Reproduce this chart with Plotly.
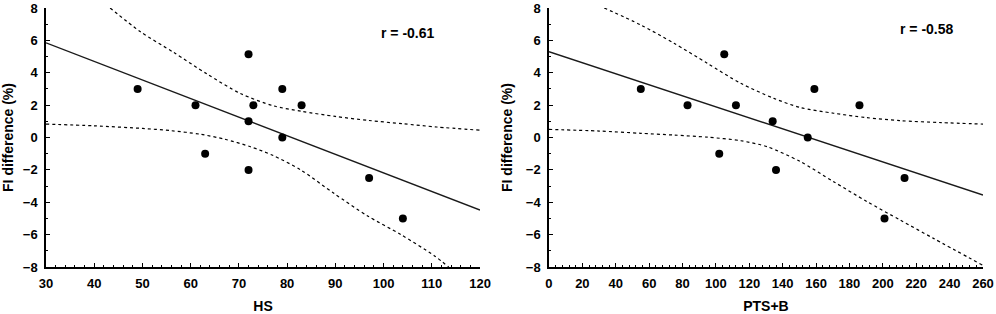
import plotly.graph_objects as go
from plotly.subplots import make_subplots

# ---- data ----
hs = [49, 61, 63, 72, 72, 72, 73, 79, 79, 83, 97, 104]
hs_fi = [3, 2, -1, 5.15, 1, -2, 2, 3, 0, 2, -2.5, -5]
hs_fit_x = [30, 120]
hs_fit_y = [5.85, -4.48]
hs_up_x = [43.3, 49.5, 56.5, 63.4, 70.3, 77.2, 83, 90, 97, 104, 111, 120]
hs_up_y = [8.0, 6.55, 5.25, 3.92, 2.72, 1.95, 1.62, 1.3, 1.05, 0.85, 0.65, 0.45]
hs_lo_x = [30, 40, 50, 56, 62, 67, 72.4, 77, 82.8, 89.7, 96.7, 103.6, 110.5, 113.5]
hs_lo_y = [0.83, 0.72, 0.56, 0.42, 0.2, -0.1, -0.57, -1.1, -2.0, -3.45, -4.85, -6.0, -7.3, -8.0]

pts = [55, 83, 105, 102, 112, 134, 155, 159, 186, 136, 213, 201]
pts_fi = [3, 2, 5.15, -1, 2, 1, 0, 3, 2, -2, -2.5, -5]
pts_fit_x = [0, 260]
pts_fit_y = [5.3, -3.55]
pts_up_x = [33.1, 55, 74.9, 94.9, 114.8, 134.7, 150.6, 170.5, 190, 210.4, 235, 260]
pts_up_y = [8.0, 6.95, 5.82, 4.58, 3.35, 2.42, 1.85, 1.5, 1.23, 1.04, 0.92, 0.83]
pts_lo_x = [0, 30, 55, 75, 94.9, 115, 130.7, 150.6, 170.5, 190.5, 210.4, 230.3, 260]
pts_lo_y = [0.5, 0.4, 0.26, 0.15, 0.02, -0.2, -0.57, -1.49, -2.73, -3.96, -5.1, -6.23, -7.9]

r_labels = ["r = -0.61", "r = -0.58"]
x_titles = ["HS", "PTS+B"]
y_title = "FI difference (%)"

FONT = "Liberation Sans, Arial, sans-serif"

fig = make_subplots(rows=1, cols=2, horizontal_spacing=0.0736)

panels = [
    (hs, hs_fi, hs_fit_x, hs_fit_y, hs_up_x, hs_up_y, hs_lo_x, hs_lo_y),
    (pts, pts_fi, pts_fit_x, pts_fit_y, pts_up_x, pts_up_y, pts_lo_x, pts_lo_y),
]
for i, (x, y, fx, fy, ux, uy, lx, ly) in enumerate(panels, start=1):
    for bx, by in ((ux, uy), (lx, ly)):
        fig.add_trace(go.Scatter(x=bx, y=by, mode="lines",
                                 line=dict(color="black", width=1.2, dash="3px,3px", shape="spline", smoothing=0.8),
                                 showlegend=False, hoverinfo="skip"), row=1, col=i)
    fig.add_trace(go.Scatter(x=fx, y=fy, mode="lines", line=dict(color="#1a1a1a", width=1.4),
                             showlegend=False), row=1, col=i)
    fig.add_trace(go.Scatter(x=x, y=y, mode="markers", marker=dict(color="black", size=8),
                             showlegend=False), row=1, col=i)

axis_common = dict(
    showgrid=False, zeroline=False, showline=True, linecolor="black", linewidth=1.5,
    ticks="inside", ticklen=4, tickwidth=1.3, tickcolor="black",
    tickfont=dict(family=FONT, size=13, color="black", weight="bold"),
    mirror=False, automargin=False,
)

x_ranges = [[30, 120], [0, 260]]
x_dticks = [10, 20]
x_minor = [2, 4]
for i in (1, 2):
    fig.update_xaxes(
        range=x_ranges[i - 1], dtick=x_dticks[i - 1], tick0=0,
        minor=dict(dtick=x_minor[i - 1], ticks="inside", ticklen=2, tickwidth=1.2, tickcolor="black", showgrid=False),
        title=dict(text=x_titles[i - 1], font=dict(family=FONT, size=14, color="black", weight="bold"), standoff=12),
        ticklabelstandoff=4,
        **axis_common, row=1, col=i)
    fig.update_yaxes(
        range=[-8, 8], dtick=2, tick0=0,
        minor=dict(dtick=1, ticks="inside", ticklen=2, tickwidth=1.2, tickcolor="black", showgrid=False),
        title=dict(text=y_title, font=dict(family=FONT, size=14, color="black", weight="bold"), standoff=10),
        ticklabelstandoff=4,
        **axis_common, row=1, col=i)

fig.add_annotation(text=r_labels[0], xref="x domain", yref="y domain", x=0.902, y=0.903, showarrow=False,
                   xanchor="right", yanchor="middle",
                   font=dict(family=FONT, size=14, color="black", weight="bold"))
fig.add_annotation(text=r_labels[1], xref="x2 domain", yref="y2 domain", x=0.938, y=0.919, showarrow=False,
                   xanchor="right", yanchor="middle",
                   font=dict(family=FONT, size=14, color="black", weight="bold"))

fig.update_layout(
    width=996, height=314,
    margin=dict(l=46, r=13, t=8, b=47),
    plot_bgcolor="white", paper_bgcolor="white",
    font=dict(family=FONT, color="black"),
)

fig.write_html("out.html", config={"displayModeBar": False},
               post_script="document.body.style.margin='0';document.body.style.overflow='hidden';")
